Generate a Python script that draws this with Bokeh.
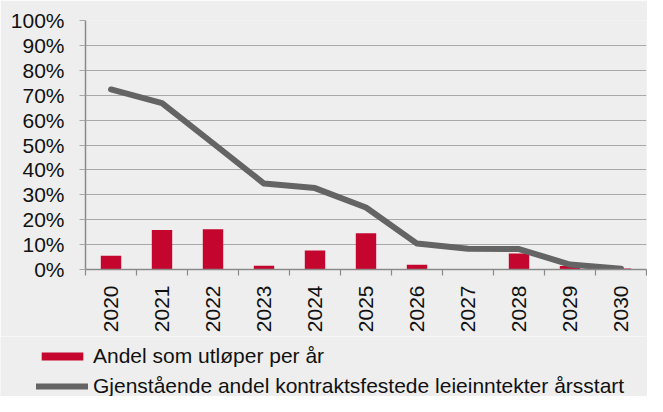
import math
from bokeh.plotting import figure
from bokeh.layouts import column, row
from bokeh.models import (FixedTicker, NumeralTickFormatter, Range1d, Legend,
                          LegendItem, ColumnDataSource)
from bokeh.embed import file_html
from bokeh.resources import INLINE

# ---- data ----
years = ["2020", "2021", "2022", "2023", "2024", "2025",
         "2026", "2027", "2028", "2029", "2030"]
expiring = [0.055, 0.159, 0.162, 0.015, 0.076, 0.146,
            0.019, 0.0, 0.064, 0.014, 0.004]
remaining = [0.723, 0.668, 0.507, 0.345, 0.327, 0.249,
             0.104, 0.083, 0.082, 0.020, 0.003]
y_ticks = [0.0, 0.1, 0.2, 0.3, 0.4, 0.5, 0.6, 0.7, 0.8, 0.9, 1.0]
bar_label = "Andel som utløper per år"
line_label = "Gjenstående andel kontraktsfestede leieinntekter årsstart"

x_centers = [i + 0.5 for i in range(len(years))]
x_bounds = list(range(len(years) + 1))

src = ColumnDataSource(dict(x=x_centers, year=years,
                            expiring=expiring, remaining=remaining))

BG = "#eeeeee"
FONT = "Liberation Sans"
BAR_COLOR = "#c4062f"
LINE_COLOR = "#646464"
TEXT_COLOR = "#111111"

# ---------------- main chart ----------------
p = figure(width=647, height=336, output_backend="svg", toolbar_location=None,
           x_range=Range1d(0, len(years)), y_range=Range1d(0, 1),
           min_border_left=85, min_border_right=1, min_border_top=20,
           min_border_bottom=67)
p.background_fill_color = BG
p.border_fill_color = BG
p.outline_line_color = None

p.vbar(x="x", top="expiring", width=0.4, bottom=0, source=src,
       fill_color=BAR_COLOR, line_color=None)
p.line(x="x", y="remaining", source=src, line_color=LINE_COLOR,
       line_width=6, line_cap="round", line_join="round")

p.xgrid.visible = False
p.ygrid.ticker = FixedTicker(ticks=y_ticks)
p.ygrid.grid_line_color = "#a8a8a8"
p.ygrid.grid_line_width = 1

p.yaxis.ticker = FixedTicker(ticks=y_ticks)
p.yaxis.formatter = NumeralTickFormatter(format="0%")
p.yaxis.major_tick_out = 6
p.yaxis.major_tick_in = 0
p.yaxis.minor_tick_line_color = None
p.yaxis.major_tick_line_color = "#a8a8a8"
p.yaxis.axis_line_color = "#8a8a8a"
p.yaxis.axis_line_width = 1.5
p.yaxis.major_label_standoff = 15
p.yaxis.major_label_text_font = FONT
p.yaxis.major_label_text_font_size = "21px"
p.yaxis.major_label_text_color = TEXT_COLOR

p.xaxis.ticker = FixedTicker(ticks=x_centers, minor_ticks=x_bounds)
p.xaxis.major_label_overrides = {xc: y for xc, y in zip(x_centers, years)}
p.xaxis.major_tick_line_color = None
p.xaxis.major_tick_out = 0
p.xaxis.major_tick_in = 0
p.xaxis.minor_tick_out = 6
p.xaxis.minor_tick_in = 0
p.xaxis.minor_tick_line_color = "#8a8a8a"
p.xaxis.minor_tick_line_width = 1.2
p.xaxis.axis_line_color = "#8a8a8a"
p.xaxis.axis_line_width = 1.5
p.xaxis.major_label_orientation = math.pi / 2
p.xaxis.major_label_standoff = 10
p.xaxis.major_label_text_font = FONT
p.xaxis.major_label_text_font_size = "21px"
p.xaxis.major_label_text_color = TEXT_COLOR

# ---------------- legend strip ----------------
# its glyphs share the data but the ranges keep them out of view;
# only the legend keys are visible here
lg = figure(width=647, height=60, output_backend="svg", toolbar_location=None,
            x_range=Range1d(100, 101), y_range=Range1d(100, 101),
            x_axis_location=None, y_axis_location=None,
            min_border_left=0, min_border_right=0, min_border_top=0,
            min_border_bottom=0)
lg.background_fill_color = BG
lg.border_fill_color = BG
lg.outline_line_color = None
lg.grid.visible = False

bar_key = lg.vbar(x="x", top="expiring", width=0.4, source=src,
                  fill_color=BAR_COLOR, line_color=None)
line_key = lg.line(x="x", y="remaining", source=src, line_color=LINE_COLOR,
                   line_width=6, line_cap="round")

legend = Legend(items=[LegendItem(label=bar_label, renderers=[bar_key]),
                       LegendItem(label=line_label, renderers=[line_key])],
                location=(36, -2), orientation="vertical",
                glyph_width=52, glyph_height=10, label_height=24,
                label_standoff=5, spacing=6, padding=0, margin=0,
                background_fill_alpha=0, border_line_color=None,
                label_text_font=FONT, label_text_font_size="21px",
                label_text_color=TEXT_COLOR)
lg.add_layout(legend, "center")

layout = column(p, row(lg, spacing=0), spacing=0)
open("out.html", "w").write(file_html(layout, INLINE))
